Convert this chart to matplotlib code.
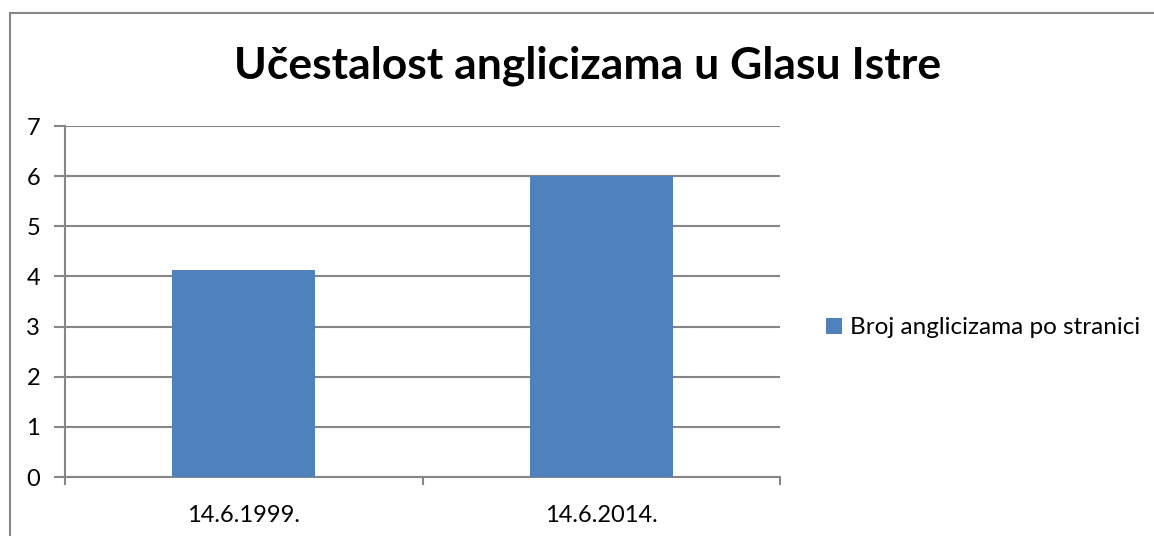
import matplotlib
matplotlib.use("Agg")
import matplotlib.pyplot as plt
from matplotlib.patches import Rectangle

categories = ["14.6.1999.", "14.6.2014."]
values = [4.13, 6.0]
series_name = "Broj anglicizama po stranici"
title = "Učestalost anglicizama u Glasu Istre"
yticks = [0, 1, 2, 3, 4, 5, 6, 7]

plt.rcParams['font.family'] = ['Lato', 'DejaVu Sans']

W, H = 1154, 536
fig = plt.figure(figsize=(W / 100, H / 100), dpi=100)
fig.patch.set_facecolor("white")

grid_col = "#868686"
# outer chart border (extends past right/bottom edges)
fig.patches.append(Rectangle((10 / W, -0.1), 1.2, (H - 13) / H + 0.1,
                             transform=fig.transFigure, fill=False,
                             edgecolor=grid_col, linewidth=1.5))

ax = fig.add_axes([65 / W, (H - 477) / H, (780 - 65) / W, (477 - 126) / H])
x = list(range(len(categories)))
bars = ax.bar(x, values, width=0.4, color="#4F81BD", label=series_name, zorder=3)
ax.set_xlim(-0.5, len(categories) - 0.5)
ax.set_ylim(0, 7)
ax.set_yticks(yticks)
ax.set_yticklabels([str(t) for t in yticks], fontsize=17)
ax.set_xticks(x)
ax.set_xticklabels(categories, fontsize=17)
ax.yaxis.grid(True, color=grid_col, linewidth=1.5, zorder=0)
ax.set_axisbelow(True)
for s in ["top", "right"]:
    ax.spines[s].set_visible(False)
ax.spines["left"].set_color(grid_col)
ax.spines["left"].set_linewidth(1.5)
ax.spines["bottom"].set_color(grid_col)
ax.spines["bottom"].set_linewidth(1.5)
ax.tick_params(axis="y", length=8, width=1.5, color=grid_col, pad=10)
ax.tick_params(axis="x", length=0, pad=20)
# minor ticks at category boundaries
ax.set_xticks([-0.5, 0.5, 1.5], minor=True)
ax.tick_params(axis="x", which="minor", length=6, width=1.5, color=grid_col, direction="out")

fig.text(588 / W, 1 - 66 / H, title, ha="center", va="center",
         fontsize=32, fontweight="bold")

fig.legend(handles=[bars], labels=[series_name], loc="center left",
           bbox_to_anchor=(804 / W, 1 - 328 / H), frameon=False,
           fontsize=17.5, handlelength=0.65, handleheight=0.65, handletextpad=0.35)

fig.savefig("out.png", dpi=100, facecolor="white")
